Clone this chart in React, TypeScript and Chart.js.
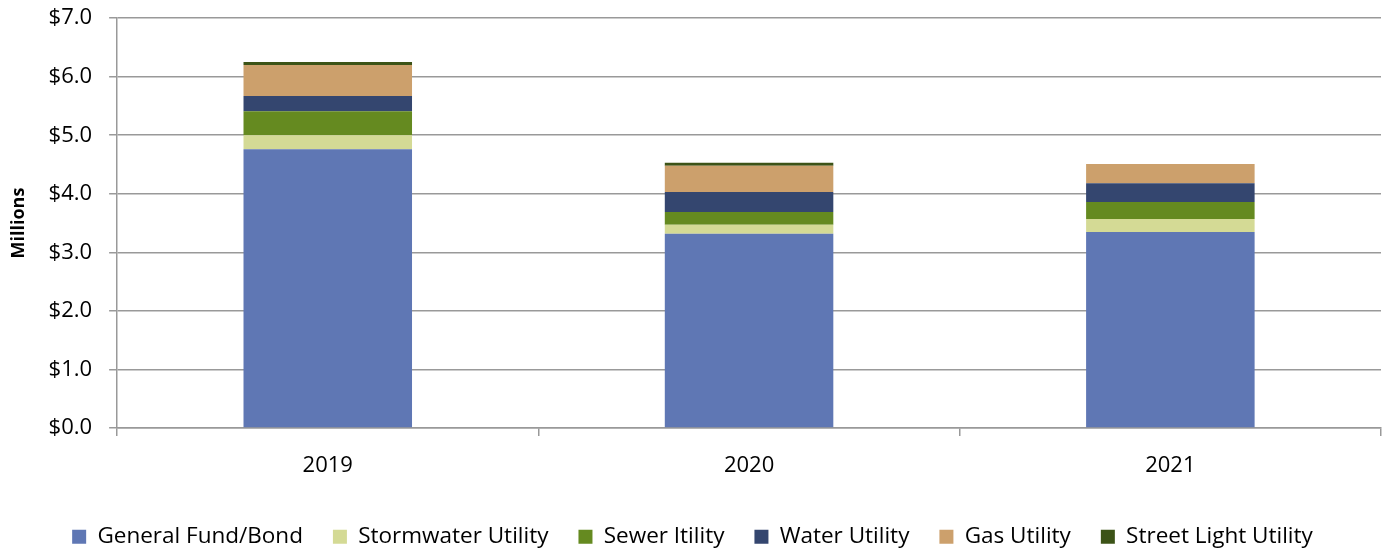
import React, { useEffect, useRef } from "react";
import { Chart, registerables } from "chart.js";

Chart.register(...registerables);

const years = ["2019", "2020", "2021"];
const generalFund = [4.76, 3.32, 3.35];
const stormwater = [0.24, 0.15, 0.22];
const sewer = [0.41, 0.22, 0.29];
const water = [0.26, 0.34, 0.32];
const gas = [0.53, 0.45, 0.33];
const streetLight = [0.05, 0.05, 0];

const seriesNames = [
  "General Fund/Bond",
  "Stormwater Utility",
  "Sewer Itility",
  "Water Utility",
  "Gas Utility",
  "Street Light Utility",
];
const seriesColors = ["#5F77B4", "#D4DA95", "#658A20", "#34466F", "#CCA06C", "#3C5317"];
const seriesData = [generalFund, stormwater, sewer, water, gas, streetLight];

const FONT = "'Open Sans', sans-serif";

export default function App() {
  const ref = useRef<HTMLCanvasElement>(null);
  useEffect(() => {
    document.body.style.margin = "0";
    const chart = new Chart(ref.current!, {
      type: "bar",
      data: {
        labels: years,
        datasets: seriesNames.map((name, i) => ({
          label: name,
          data: seriesData[i],
          backgroundColor: seriesColors[i],
          borderWidth: 0,
          barPercentage: 0.4,
          categoryPercentage: 1,
        })),
      },
      options: {
        animation: false,
        responsive: false,
        maintainAspectRatio: false,
        layout: { padding: { top: 0, right: 4, left: 4, bottom: -10 } },
        plugins: {
          tooltip: { enabled: false },
          legend: {
            position: "bottom",
            labels: {
              boxWidth: 14,
              boxHeight: 14,
              padding: 30,
              color: "#000",
              font: { family: FONT, size: 22.5 },
            },
          },
        },
        scales: {
          x: {
            stacked: true,
            grid: {
              display: true,
              drawOnChartArea: false,
              drawTicks: true,
              tickLength: 8,
              color: "#999",
              lineWidth: 1.5,
            },
            border: { color: "#999", width: 1.5 },
            ticks: { color: "#000", font: { family: FONT, size: 22 }, padding: 16 },
            title: {
              display: true,
              text: " ",
              font: { size: 1, lineHeight: 1 },
              padding: 0,
            },
          },
          y: {
            stacked: true,
            min: 0,
            max: 7,
            ticks: {
              stepSize: 1,
              color: "#000",
              font: { family: FONT, size: 22, lineHeight: 0.1 },
              padding: 17,
              callback: (v: any) => "$" + Number(v).toFixed(1),
            },
            grid: { color: "#999", lineWidth: 1.5, tickLength: 8 },
            border: { color: "#999", width: 1.5 },
            title: {
              display: true,
              text: "Millions",
              color: "#000",
              font: { family: FONT, size: 18, weight: "bold" },
              padding: { top: 4, bottom: 2 },
            },
          },
        },
      },
    });
    return () => chart.destroy();
  }, []);
  return <canvas ref={ref} width={1385} height={548} style={{ display: "block" }} />;
}
